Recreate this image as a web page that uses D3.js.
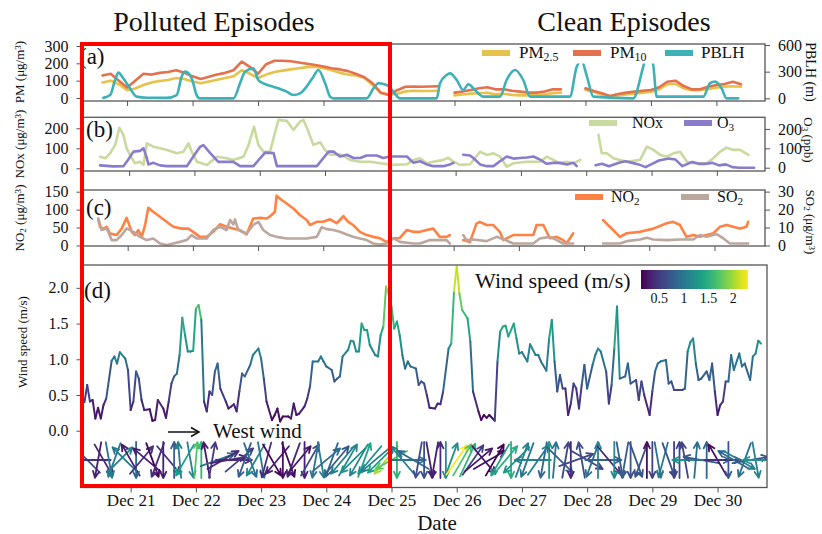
<!DOCTYPE html>
<html>
<head>
<meta charset="utf-8">
<script src="https://cdn.jsdelivr.net/npm/d3@7"></script>
<style>
  body { margin: 0; background: #fff; }
  svg { display: block; }
  svg text { font-family: "Liberation Serif", "Times New Roman", Times, serif !important; fill: #111; }
</style>
</head>
<body>
<svg id="chart" width="822" height="534" font-family="Liberation Serif, Times New Roman, serif"></svg>
<script>
// ---- time base: hours counted from Dec 21 00:00 ----
const BASE = Date.UTC(2019, 11, 21);
const toDate = h => new Date(BASE + h * 3600e3);

// ---- (a) particulate matter, 3-hourly from Dec 20 12:00 ----
const pmStartHour = -12, pmStepHours = 3;
const pm25 = [null,90,100,80,45,55,75,90,98,104,115,110,95,85,95,105,115,125,160,140,
  115,135,150,158,165,172,178,180,172,160,145,135,130,115,75,30,17,25,38,42,
  40,40,42,null,15,20,25,27,30,22,25,18,15,15,18,20,28,30,null,null,
  48,35,20,8,15,20,25,30,35,50,78,82,55,45,45,52,60,65,68,65];
const pm10 = [null,130,140,100,60,100,140,135,145,150,160,145,125,110,122,135,145,160,210,180,
  140,195,215,215,212,205,198,190,182,172,165,155,138,120,85,30,18,45,65,66,
  65,66,68,null,31,37,46,56,62,50,50,42,37,31,31,37,50,50,null,null,
  56,40,27,12,23,31,37,42,46,62,94,100,69,50,50,65,75,81,94,80];

// ---- (a) boundary layer height (m) ----
const pblhHours = [-8.7,-6.2,-4.4,-3.2,-1.4,1.1,3.5,7.2,14.5,18.2,20.0,21.3,23.7,25.5,26.7,39.0,41.4,43.2,46.3,48.1,
  49.9,53.6,58.5,60.9,63.4,65.8,68.3,70.1,72.6,74.4,75.6,87.8,90.3,92.1,95.2,97.6,100,113.5,114.7,117.1,
  118.4,120.8,123.2,125.1,127.5,130.6,136.7,139.1,142.2,145.2,147.7,162.3,164.8,166.6,168.5,170.9,185.5,189.2,191,192.9,
  194.1,211.2,213.6,215.5,217.9,219.7,224];
const pblh = [5,37,206,289,225,112,19,7,5,37,244,300,225,37,0,0,169,300,337,206,
  169,131,75,37,56,131,244,319,169,19,0,0,112,169,150,75,0,0,169,262,
  281,206,94,158,94,19,19,206,319,206,19,19,356,420,250,19,0,360,560,360,
  19,19,169,188,112,0,0];

// ---- (b) NOx (ug/m3) and O3 (ppb) ----
const noxHours = [-10.7,-8.8,-7.0,-5.1,-3.6,-2.1,-0.9,1.0,2.2,4.0,5.3,6.5,8.9,11.4,13.9,17.5,20.0,21.8,23.0,24.9,
  28.6,32.2,35.9,38.3,42.0,43.9,45.9,47.5,49.4,51.8,53.7,54.9,58.0,60.4,62.8,64.1,65.9,67.7,70.2,72.0,
  73.9,77.5,81.2,84.9,88.6,92.2,97.1,102.1,104.5,106.9,109.4,111.8,115.5,117.3,119.2,121.6,125.3,129.0,131.5,133.9,
  136.3,138.8,141.2,146.2,151.0,153.5,155.9,158.4,160.9,163.3,165.8,169,172.5,173.7,175.6,178.0,182.9,187.8,190.3,192.7,
  195.2,197.6,200.1,202.5,205.0,207.4,212.3,214.7,217.2,219.6,222.1,224.5,227.6];
const nox = [58,50,75,117,203,167,100,50,25,33,17,125,108,100,92,75,83,125,83,33,
  17,58,50,42,58,117,208,117,83,83,183,242,237,192,233,242,183,117,130,92,
  67,70,42,33,33,25,17,20,42,50,25,33,42,53,33,17,20,83,67,75,
  58,8,25,33,33,58,42,25,33,25,42,null,167,75,75,50,33,42,108,92,
  67,58,75,83,33,25,25,50,83,103,92,92,67];
const o3Hours = [-10.7,-5.8,-2.1,-0.3,1.6,4.0,5.3,6.5,7.1,8.9,11.4,13.9,21.2,23.6,26.1,27.3,29.8,32.8,35.9,38.3,
  40.8,45.7,48.2,50.0,53.1,54.3,69.0,71.4,73.3,75.1,77.5,80.0,82.5,84.9,87.3,91.0,93.4,95.9,99.6,102.1,
  104.5,106.9,109.4,111.8,115.5,117.9,119.2,121,122.8,125.3,126.5,129.0,131.5,133.9,136.3,138.8,141.2,143.7,146.2,148.6,
  151.0,153.5,155.9,158.4,160.9,163.3,164.5,168,171.4,173.8,176.3,180.0,182.4,184.9,187.3,189.8,192.2,194.7,198.4,200.8,
  203.3,207.0,209.4,211.9,214.4,216.8,219.3,221.7,224.2,229.7];
const o3 = [12,7,8,42,83,87,100,50,17,25,12,8,8,58,108,117,75,30,30,30,
  8,8,50,78,75,8,8,50,83,83,58,67,50,50,63,63,50,58,58,58,
  25,33,17,8,8,17,25,null,67,63,50,17,8,8,33,58,47,50,53,58,
  42,20,25,25,17,25,8,null,13,20,8,25,33,25,17,3,20,37,47,42,
  8,30,20,20,25,12,17,3,0,0];

// ---- (c) NO2 and SO2 (ug/m3) ----
const no2Hours = [-10.8,-10.2,-9.0,-7.7,-6.5,-4.1,-2.2,-0.4,1.5,2.7,3.9,5.2,6.4,7.6,9.4,11.9,14.3,16.8,19.9,22.3,
  24.1,26.6,29.1,31.5,34.0,36.4,38.9,41.3,43.8,46.2,48.7,51.2,53.0,54.2,54.8,56.7,58.5,61.0,63.4,65.9,
  67.1,69.6,72.0,74.5,76.9,78.1,79.4,81.2,83.0,85.5,88.0,90.4,92.9,95.3,97.8,100.2,102.7,105.1,107.6,110.0,
  112.5,114.9,117.4,118.6,121,123.5,126.0,128.4,129.6,132.1,134.6,137.0,138.3,139.5,141.9,144.4,149.3,150.5,153.0,155.4,
  157.9,160.3,161.6,164.0,170,175.0,176.3,178.7,181.2,183.7,188.6,193.5,198.4,200.8,203.3,205.7,208.2,210.6,213.1,215.6,
  218.0,220.5,222.9,225.4,227.8,228.4];
const no2 = [71,52,47,52,33,29,47,77,38,29,43,24,57,105,94,80,66,52,47,47,
  38,24,24,38,59,52,47,43,31,75,77,75,85,94,139,127,117,103,85,71,
  57,66,66,73,62,71,82,66,57,38,29,24,20,10,20,21,43,38,38,43,
  47,24,24,29,null,15,10,61,66,57,57,38,15,20,29,29,29,57,57,20,
  24,15,6,34,null,71,61,43,24,34,38,47,62,66,57,24,29,24,29,34,
  52,57,52,47,52,66];
const so2Hours = [-10.8,-9.6,-7.7,-5.9,-4.1,-2.2,-0.4,2.1,4.5,7.0,9.4,11.9,14.3,16.8,19.2,21.7,23.5,25.4,29.1,31.5,
  34.0,36.4,37.7,38.9,39.5,40.7,43.8,46.2,48.1,49.9,52.4,54.8,58.5,65.9,69.6,71.4,73.3,75.7,78.1,80.6,
  83.0,85.5,88.0,90.4,92.9,95.3,97.8,100.2,105.1,107.6,111.3,117.4,118.6,121,123.5,124.7,127.2,132.1,135.8,138.3,
  141.9,149.3,151.7,155.4,157.9,160.3,164.0,170,175.0,181.2,183.7,188.6,191.1,193.5,198.4,203.3,208.2,210.6,213.1,215.6,
  216.8,219.3,221.7,228.4];
const so2 = [15.1,8.6,9.5,3.0,3.0,5.8,9.5,7.6,4.8,3.0,3.9,1.1,0.2,1.1,2.0,3.0,5.8,3.9,3.9,8.6,
  10.4,8.6,14.2,11.7,14.5,8.6,6.7,11.4,13.2,8.6,5.8,4.8,3.9,3.9,4.8,10.1,9.1,8.6,7.6,6.1,
  4.8,3.9,3.0,1.1,0.5,1.1,3.9,2.0,1.1,1.1,3.0,3.0,1.1,null,5.8,3.0,3.3,2.4,4.8,3.5,
  1.1,1.1,3.9,4.8,3.0,1.1,1.1,null,1.1,1.1,2.4,3.3,4.3,3.3,3.0,3.3,3.3,5.8,4.8,5.8,
  6.3,3.9,1.1,1.1];

// ---- (d) wind speed (m/s) ----
const windHours = [-17,-16,-15,-14,-13,-12,-11,-10,-9,-7,-6,-5,-4,-2,-1,0,1,2,3,4,
  5,7,8,9,10,12,13,14,15,16,17,18,19,20,21,22,23,24,25,26,
  27,28,29,30,31,32,33,35,36,37,38,39,40,41,42,44,45,47,48,49,
  50,52,53,54,55,56,58,59,60,61,62,64,65,66,67,69,70,71,72,74,
  75,76,77,78,80,81,82,83,84,85,86,87,88,90,91,92,93,94,95,96,
  97,98,99,100,101,102,103,105,106,107,108,109,110,112,113,114,115,117,118,119,
  120,121,122,124,125,126,128,129,130,131,132,134,135,136,137,138,139,141,142,143,
  144,146,147,149,150,151,153,154,155,156,157,158,159,160,161,162,163,164,165,166,
  167,168,170,171,172,173,175,176,177,178,179,180,182,183,184,186,187,188,189,191,
  192,193,194,195,197,198,199,200,202,203,204,205,206,207,208,209,210,212,213,214,
  215,216,217,218,219,220,221,222,224,225,226,228,229,230,231,232];
const windSpeed = [0.40,0.64,0.41,0.43,0.17,0.32,0.17,0.36,0.45,0.98,1.04,0.94,1.10,1.01,0.85,0.29,0.41,0.83,0.73,0.43,
  0.29,0.30,0.14,0.15,0.43,0.31,0.18,0.41,0.66,0.76,0.80,1.06,1.58,1.34,1.11,1.11,1.12,1.71,1.76,1.55,
  0.41,0.27,0.55,0.50,0.83,0.94,0.59,0.41,0.31,0.34,0.37,0.27,0.55,0.80,0.76,0.92,1.06,1.15,1.01,0.73,
  0.41,0.15,0.22,0.31,0.13,0.20,0.20,0.17,0.38,0.22,0.24,0.34,0.45,0.62,0.97,0.97,1.04,0.97,0.90,0.85,
  0.69,0.73,0.76,1.04,1.13,1.26,1.25,1.11,1.11,1.50,1.41,1.41,1.20,1.06,1.04,1.34,1.46,2.02,1.90,1.74,
  1.43,1.53,1.34,1.06,0.87,0.97,0.90,0.87,0.64,0.69,0.66,0.50,0.32,0.31,0.38,0.37,0.55,1.15,1.22,1.95,
  2.30,1.92,1.69,1.57,1.25,0.55,0.27,0.15,0.22,0.18,0.22,0.14,0.97,1.39,1.46,1.47,1.32,1.50,1.29,1.08,
  1.10,0.97,1.21,1.06,1.06,0.97,0.84,1.29,1.55,0.97,0.55,0.78,0.59,0.59,0.22,0.38,0.66,0.59,0.31,0.64,
  0.92,0.59,0.92,1.06,1.15,1.11,0.83,0.38,0.64,1.15,1.74,0.73,0.76,0.94,0.66,0.71,0.43,0.69,0.50,0.22,
  0.55,0.83,0.94,0.97,0.99,0.66,0.69,0.57,0.57,0.57,0.59,1.11,1.24,1.29,0.94,0.71,0.73,0.83,0.71,0.94,
  0.55,0.22,0.36,0.41,0.69,0.69,1.06,0.85,1.08,0.90,0.94,0.71,1.04,1.08,1.26,1.22];

// ---- (d) wind direction (degrees, direction the wind blows from), every 2 h from hour -16 ----
const dirStartHour = -16, dirStepHours = 2;
const windDir = [135,90,10,330, 350,20,225,135, 150,0,220,130,
  340,20,0,320,180,175,30,350, 185,180,170,190, 250,240,260,270,230,
  20,340,30,350,15,330,40,0,340,20, 220,0,210,10,350,230,20,
  220,40,210,45,30,200,40,50,45,40, 60,0,140,270,120,10,
  0,350,10,180,0,200,215, 210,205,215,230,320,240,
  210,30,220,0,45,200,20,90,215,10, 180,185,315,
  190,0,250,170,300,20,180,270,320,0,
  350,10,0,340,20,180,0,350,15,340,0,
  180,170,90,185,100,180,270,150, 270,0,120,300,20,260,350,90];

const dayLabels = ["Dec 21","Dec 22","Dec 23","Dec 24","Dec 25","Dec 26","Dec 27","Dec 28","Dec 29","Dec 30"];

// ---------------------------------------------------------------
const SERIF = "'Liberation Serif', 'Times New Roman', Times, serif";
const svg = d3.select("#chart");
const FRAME = "#555";
const L = 81.5;

const pmHours = pm10.map((_, i) => pmStartHour + i * pmStepHours);

const panels = {
  a: { top: 44, bottom: 101, right: 765, hours: [-16.7, 233.8] },
  b: { top: 117.3, bottom: 171, right: 765, hours: [-17.5, 233.7] },
  c: { top: 190, bottom: 246, right: 765, hours: [-17.0, 234.6] },
  d: { top: 265, bottom: 487.5, right: 767, hours: [-18.1, 234.2] }
};
Object.entries(panels).forEach(([k, p]) => {
  p.x = d3.scaleUtc().domain(p.hours.map(toDate)).range([L, p.right]);
  const cp = svg.append("clipPath").attr("id", "clip-" + k);
  cp.append("rect").attr("x", L).attr("y", p.top).attr("width", p.right - L).attr("height", p.bottom - p.top);
});

const yA = d3.scaleLinear().domain([-17.3, 311.5]).range([101, 44]);
const yA2 = d3.scaleLinear().domain([-30, 611]).range([101, 44]);
const yB = d3.scaleLinear().domain([-13.5, 255]).range([171, 117.3]);
const yB2 = d3.scaleLinear().domain([-17, 260]).range([171, 117.3]);
const yC = d3.scaleLinear().domain([-1.5, 154.7]).range([246, 190]);
const yC2 = d3.scaleLinear().domain([-0.3, 30.9]).range([246, 190]);
const yD = d3.scaleLinear().domain([-0.795, 2.32]).range([487.5, 265]);

const dayDates = dayLabels.map((_, i) => toDate(24 * i));

function txt(x, y, size) {
  return svg.append("text").attr("x", x).attr("y", y).attr("font-size", size).style("font-family", SERIF);
}

// rich text helper: parts = [[text, "sub"|"sup"|""], ...]
function richText(sel, parts, size) {
  parts.forEach(([s, kind]) => {
    const ts = sel.append("tspan").text(s);
    if (kind === "sub") ts.attr("font-size", size * 0.7).attr("baseline-shift", "-25%");
    else if (kind === "sup") ts.attr("font-size", size * 0.7).attr("baseline-shift", "35%");
  });
  return sel;
}

function styleAxis(g, size) {
  g.attr("font-family", null).attr("font-size", null);
  g.select(".domain").remove();
  g.selectAll(".tick line").attr("stroke", FRAME).attr("stroke-width", 1);
  g.selectAll(".tick text").style("font-family", SERIF).attr("font-size", size || 16).attr("fill", "#111");
}

function frame(k) {
  const p = panels[k];
  svg.append("rect").attr("x", L).attr("y", p.top).attr("width", p.right - L)
    .attr("height", p.bottom - p.top).attr("fill", "none").attr("stroke", FRAME).attr("stroke-width", 1.3);
  const ax = svg.append("g").attr("transform", `translate(0,${p.bottom})`)
    .call(d3.axisBottom(p.x).tickValues(dayDates).tickSize(5)
      .tickFormat((d, i) => k === "d" ? dayLabels[i] : ""));
  styleAxis(ax, 17);
  ax.selectAll(".tick text").attr("dy", "0.62em");
}

function leftAxis(y, vals, fmt) {
  const g = svg.append("g").attr("transform", `translate(${L},0)`)
    .call(d3.axisLeft(y).tickValues(vals).tickSize(5).tickPadding(8).tickFormat(fmt || d3.format("d")));
  styleAxis(g);
  return g;
}
function rightAxis(k, y, vals) {
  const g = svg.append("g").attr("transform", `translate(${panels[k].right},0)`)
    .call(d3.axisRight(y).tickValues(vals).tickSize(5).tickPadding(8).tickFormat(d3.format("d")));
  styleAxis(g);
  return g;
}

function series(k, hours, vals, y, color, curve) {
  const pts = hours.map((h, i) => ({ h, v: vals[i] }));
  const line = d3.line().defined(d => d.v != null)
    .x(d => panels[k].x(toDate(d.h))).y(d => y(d.v)).curve(curve || d3.curveLinear);
  svg.append("path").datum(pts).attr("clip-path", `url(#clip-${k})`)
    .attr("d", line).attr("fill", "none").attr("stroke", color)
    .attr("stroke-width", 2.6).attr("stroke-linejoin", "round").attr("stroke-linecap", "round");
}

function vLabel(x, yc, parts, size, rot) {
  const t = svg.append("text").attr("transform", `translate(${x},${yc}) rotate(${rot})`)
    .attr("text-anchor", "middle").attr("font-size", size).style("font-family", SERIF);
  richText(t, parts, size);
}

function legendItem(x, y, color, parts, size, tx) {
  svg.append("rect").attr("x", x).attr("y", y - 3).attr("width", 28).attr("height", 6).attr("fill", color);
  richText(txt(tx, y + 5, size), parts, size);
}

const C = {
  pm25: "#E6C24C", pm10: "#E3714B", pblh: "#3DB1B8",
  nox: "#C9DA9E", o3: "#8A7BCB", no2: "#FF8244", so2: "#BCA79E"
};

// ---------------- titles ----------------
txt(214, 31, 28).attr("text-anchor", "middle").text("Polluted Episodes");
txt(624, 31, 28).attr("text-anchor", "middle").text("Clean Episodes");

// ---------------- panel (a) ----------------
series("a", pmHours, pm25, yA, C.pm25);
series("a", pmHours, pm10, yA, C.pm10);
series("a", pblhHours, pblh, yA2, C.pblh, d3.curveMonotoneX);
svg.append("rect").attr("x", 472).attr("y", 45).attr("width", 290).attr("height", 18.5).attr("fill", "#fff");
frame("a");
leftAxis(yA, [0, 100, 200, 300]);
rightAxis("a", yA2, [0, 300, 600]);
legendItem(482, 53, C.pm25, [["PM", ""], ["2.5", "sub"]], 17, 519);
legendItem(573, 53, C.pm10, [["PM", ""], ["10", "sub"]], 17, 610);
legendItem(665, 53, C.pblh, [["PBLH", ""]], 17, 701);
txt(79, 64, 23).text("(a)");
vLabel(24, 72, [["PM (μg/m", ""], ["3", "sup"], [")", ""]], 13, -90);
vLabel(806, 72, [["PBLH (m)", ""]], 14, 90);

// ---------------- panel (b) ----------------
series("b", noxHours, nox, yB, C.nox);
series("b", o3Hours, o3, yB2, C.o3);
frame("b");
leftAxis(yB, [0, 100, 200]);
rightAxis("b", yB2, [0, 100, 200]);
legendItem(589, 123, C.nox, [["NOx", ""]], 16, 632);
legendItem(684, 123, C.o3, [["O", ""], ["3", "sub"]], 16, 717);
txt(86, 137, 23).text("(b)");
vLabel(24, 144, [["NOx (μg/m", ""], ["3", "sup"], [")", ""]], 13, -90);
vLabel(804, 140, [["O", ""], ["3", "sub"], [" (ppb)", ""]], 13, 90);

// ---------------- panel (c) ----------------
series("c", no2Hours, no2, yC, C.no2);
series("c", so2Hours, so2, yC2, C.so2);
frame("c");
leftAxis(yC, [0, 50, 100, 150]);
rightAxis("c", yC2, [0, 10, 20, 30]);
legendItem(575, 197, C.no2, [["NO", ""], ["2", "sub"]], 16, 611);
legendItem(681, 197, C.so2, [["SO", ""], ["2", "sub"]], 16, 717);
txt(86, 215, 23).text("(c)");
vLabel(24, 218, [["NO", ""], ["2", "sub"], [" (μg/m", ""], ["3", "sup"], [")", ""]], 13, -90);
vLabel(806, 222, [["SO", ""], ["2", "sub"], [" (μg/m", ""], ["3", "sup"], [")", ""]], 13, 90);

// ---------------- panel (d) ----------------
const wExt = d3.extent(windSpeed);
const color = d3.scaleSequential(d3.interpolateViridis).domain(wExt);
const pd = panels.d;
const gw = svg.append("g").attr("clip-path", "url(#clip-d)");
for (let i = 1; i < windHours.length; i++) {
  gw.append("line")
    .attr("x1", pd.x(toDate(windHours[i - 1]))).attr("y1", yD(windSpeed[i - 1]))
    .attr("x2", pd.x(toDate(windHours[i]))).attr("y2", yD(windSpeed[i]))
    .attr("stroke", color((windSpeed[i - 1] + windSpeed[i]) / 2))
    .attr("stroke-width", 2).attr("stroke-linecap", "round");
}

// wind direction arrows, centred on a common level, coloured by speed
const bis = d3.bisector(d => d).left;
const speedAt = h => {
  let j = bis(windHours, h);
  if (j >= windHours.length) j = windHours.length - 1;
  if (j > 0 && Math.abs(windHours[j - 1] - h) < Math.abs(windHours[j] - h)) j--;
  return windSpeed[j];
};
const arrowLevel = -0.41, halfLen = 18, headLen = 7;
windDir.forEach((dir, i) => {
  const h = dirStartHour + i * dirStepHours;
  const cx = pd.x(toDate(h)), cy = yD(arrowLevel);
  const th = (dir + 180) * Math.PI / 180;
  const ux = Math.sin(th), uy = -Math.cos(th);
  const x0 = cx - ux * halfLen, y0 = cy - uy * halfLen;
  const x1 = cx + ux * halfLen, y1 = cy + uy * halfLen;
  const a = Math.atan2(uy, ux);
  const hx1 = x1 - headLen * Math.cos(a - 0.45), hy1 = y1 - headLen * Math.sin(a - 0.45);
  const hx2 = x1 - headLen * Math.cos(a + 0.45), hy2 = y1 - headLen * Math.sin(a + 0.45);
  gw.append("path")
    .attr("d", `M${x0},${y0}L${x1},${y1}M${hx1},${hy1}L${x1},${y1}L${hx2},${hy2}`)
    .attr("fill", "none").attr("stroke", color(speedAt(h))).attr("stroke-width", 1.8)
    .attr("stroke-linecap", "round").attr("stroke-linejoin", "round");
});

frame("d");
leftAxis(yD, [0, 0.5, 1, 1.5, 2], d3.format(".1f"));
txt(84, 298, 23).text("(d)");
vLabel(27, 342, [["Wind speed (m/s)", ""]], 13, -90);

// "West wind" key arrow
svg.append("line").attr("x1", 168).attr("y1", 432).attr("x2", 198).attr("y2", 432)
  .attr("stroke", "#111").attr("stroke-width", 1.5);
svg.append("path").attr("d", "M191,427.5L199,432L191,436.5").attr("fill", "none").attr("stroke", "#111").attr("stroke-width", 1.5);
txt(213, 438, 21).text("West wind");

// colour bar
const cbX0 = 641, cbX1 = 748, cbY = 270, cbH = 19;
const cbScale = d3.scaleLinear().domain(wExt).range([cbX0, cbX1]);
const grad = svg.append("defs").append("linearGradient").attr("id", "viridis");
d3.range(0, 1.0001, 0.1).forEach(f => grad.append("stop").attr("offset", f).attr("stop-color", d3.interpolateViridis(f)));
svg.append("rect").attr("x", cbX0).attr("y", cbY).attr("width", cbX1 - cbX0).attr("height", cbH).attr("fill", "url(#viridis)");
[0.5, 1, 1.5, 2].forEach(v => {
  txt(cbScale(v), cbY + cbH + 14, 14).attr("text-anchor", "middle").text(String(v));
});
txt(475, 288, 22).text("Wind speed (m/s)");

txt(437, 529.5, 21).attr("text-anchor", "middle").text("Date");

// polluted-episode highlight box
svg.append("rect").attr("x", 82).attr("y", 44).attr("width", 308).attr("height", 442)
  .attr("fill", "none").attr("stroke", "#f00").attr("stroke-width", 4);
</script>
</body>
</html>
